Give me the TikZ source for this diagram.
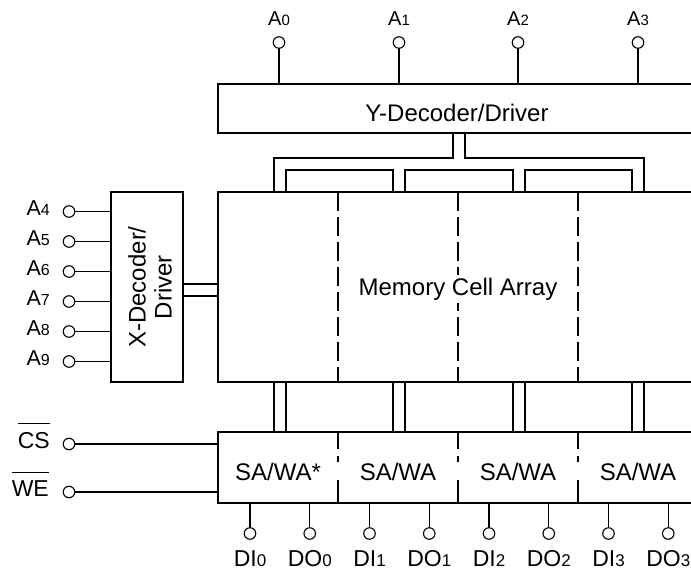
\documentclass[tikz,border=0pt]{standalone}
\usepackage{fontspec}
\setmainfont{Liberation Sans}
\newcommand{\dsub}[2]{{\fontsize{#1pt}{#1pt}\selectfont #2}}
\newcommand{\barred}[2]{\leavevmode\vbox{\hrule height 1.2pt\kern #1\hbox{#2}}}
\begin{document}
\begin{tikzpicture}[x=1pt,y=-1pt,
  box/.style={draw, line width=2.2pt, rectangle, inner sep=0pt, outer sep=0pt},
  wire/.style={line width=1.2pt},
  pincirc/.style={circle, draw, line width=1.1pt, minimum size=11.5pt, inner sep=0pt, outer sep=0pt, fill=white},
  bigtext/.style={font=\fontsize{24}{26}\selectfont, inner sep=1pt},
  toplbl/.style={font=\fontsize{20}{22}\selectfont, anchor=base, inner sep=0pt},
  leftlbl/.style={font=\fontsize{21.5}{24}\selectfont, anchor=base east, inner sep=0pt},
  botlbl/.style={font=\fontsize{23}{25}\selectfont, anchor=base, inner sep=0pt},
  memdiv/.style={line width=1.2pt, dash pattern=on 19pt off 6pt},
  sadiv/.style={line width=1.2pt, dash pattern=on 17pt off 7pt on 6pt off 18pt on 30pt}
]
\useasboundingbox (0,0) rectangle (691,571);
\clip (0,0) rectangle (691,571);

% main blocks
\node[box, minimum width=480pt, minimum height=49pt] (ydec) at (458,108.5) {};
\node[bigtext, anchor=base] (ydect) at (457,121.5) {Y-Decoder/Driver};
\node[box, minimum width=480pt, minimum height=190pt] (mem) at (458,287) {};
\node[box, minimum width=72pt, minimum height=190pt] (xdec) at (147,287) {};
\node[bigtext, rotate=90, align=center] (xdect) at (150,287) {X-Decoder/\\Driver};
\node[box, minimum width=480pt, minimum height=71pt] (sawa) at (458,467.5) {};

% dividers
\foreach \i in {1,2,3} {
  \draw[memdiv] ([xshift=\i*120pt]mem.north west) -- ([xshift=\i*120pt]mem.south west);
  \draw[sadiv] ([xshift=\i*120pt]sawa.north west) -- ([xshift=\i*120pt]sawa.south west);
}
\node[bigtext, fill=white, inner sep=3pt, anchor=base] (memt) at (458,295) {Memory Cell Array};
\node[bigtext, anchor=base] (sw1) at (278,480) {SA/WA*};
\node[bigtext, anchor=base] (sw2) at (398,480) {SA/WA};
\node[bigtext, anchor=base] (sw3) at (518,480) {SA/WA};
\node[bigtext, anchor=base] (sw4) at (638,480) {SA/WA};

% top pins
\foreach \x/\n in {279/0,399/1,518/2,638/3} {
  \node[pincirc] (pa\n) at (\x,42.5) {};
  \draw[wire] (pa\n.south) -- (pa\n.south |- ydec.north);
  \node[toplbl] (la\n) at (\x,25) {A\dsub{15}{\n}};
}

% left address pins
\foreach \n/\y in {4/211.5,5/241.5,6/271.5,7/301.5,8/331.5,9/361.5} {
  \node[pincirc] (pa\n) at (69,\y) {};
  \draw[wire] (pa\n.east) -- (pa\n.east -| xdec.west);
  \node[leftlbl] (la\n) at (50,\y+4) {A\dsub{16}{\n}};
}

% X-decoder bus
\coordinate (xb1) at (183,284);
\coordinate (xb2) at (183,296);
\draw[wire] (xb1 -| xdec.east) -- (xb1 -| mem.west);
\draw[wire] (xb2 -| xdec.east) -- (xb2 -| mem.west);

% Y-decoder bus
\coordinate (yl) at (453,158);
\coordinate (yr) at (465,158);
\coordinate (ol) at (274,158);
\coordinate (or) at (644,158);
\draw[wire] (yl |- ydec.south) -- (yl) -- (ol) -- (ol |- mem.north);
\draw[wire] (yr |- ydec.south) -- (yr) -- (or) -- (or |- mem.north);
\foreach \a/\b in {286/393,405/513,525/632} {
  \coordinate (bl\a) at (\a,170);
  \coordinate (br\a) at (\b,170);
  \draw[wire] (bl\a |- mem.north) -- (bl\a) -- (br\a) -- (br\a |- mem.north);
}

% memory to SA/WA bus
\foreach \x in {274,286,393,405,513,525,632,644} {
  \coordinate (vb\x) at (\x,407);
  \draw[wire] (vb\x |- mem.south) -- (vb\x |- sawa.north);
}

% CS / WE
\node[pincirc] (pcs) at (69,444) {};
\draw[wire] (pcs.east) -- (pcs.east -| sawa.west);
\node[leftlbl, font=\fontsize{23}{25}\selectfont] (lcs) at (50,448) {\barred{8pt}{CS}};
\node[pincirc] (pwe) at (69,492) {};
\draw[wire] (pwe.east) -- (pwe.east -| sawa.west);
\node[leftlbl, font=\fontsize{23}{25}\selectfont] (lwe) at (49,496) {\barred{7pt}{WE}};

% bottom data pins
\foreach \t/\d [count=\i from 0] in {I/0,O/0,I/1,O/1,I/2,O/2,I/3,O/3} {
  \node[pincirc] (pd\i) at ({250+59.75*\i},533.5) {};
  \draw[wire] (pd\i.north) -- (pd\i.north |- sawa.south);
  \node[botlbl] (ld\i) at ({250+59.75*\i},566) {D\t\dsub{17}{\d}};
}
\end{tikzpicture}
\end{document}
